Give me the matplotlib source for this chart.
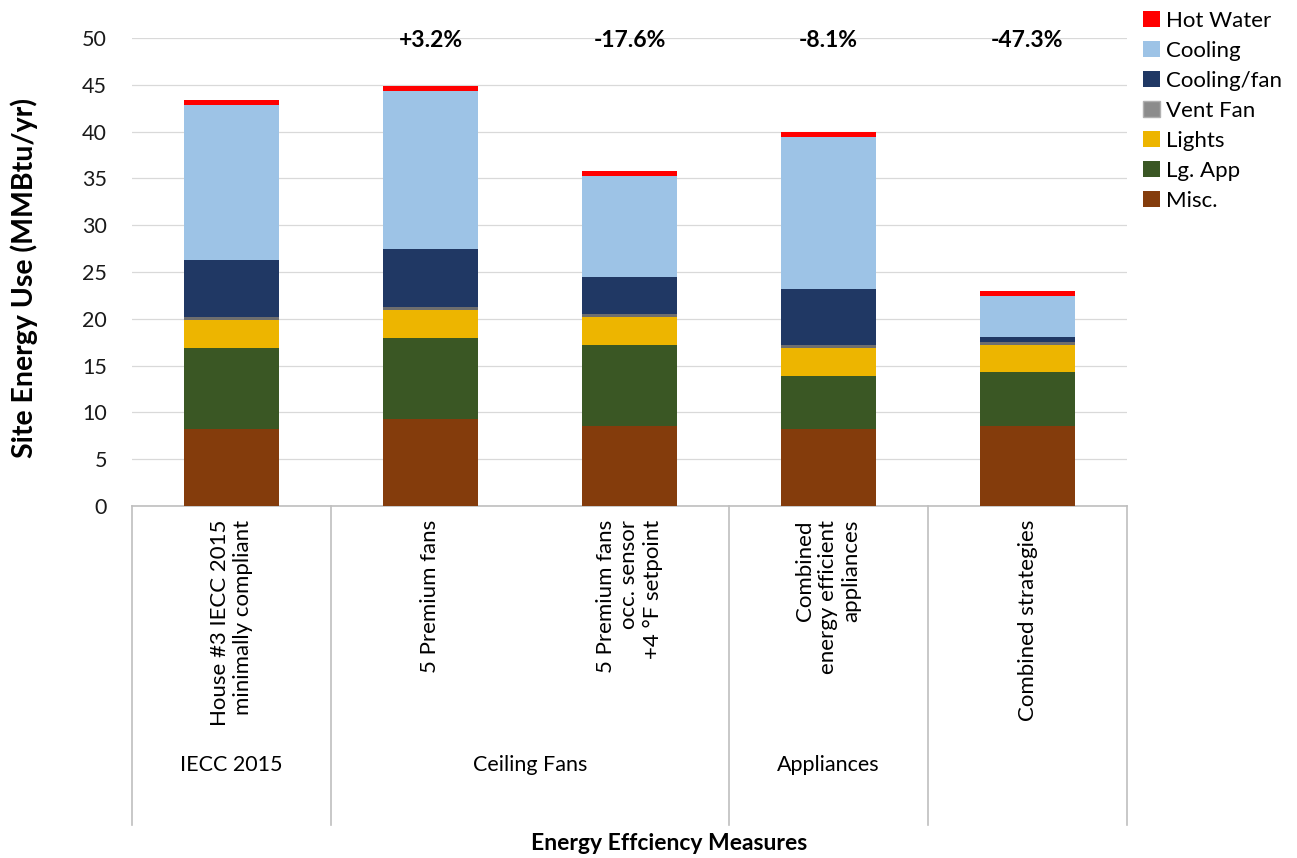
import matplotlib
matplotlib.use("Agg")
import matplotlib.pyplot as plt
import matplotlib.transforms as mtransforms
from matplotlib.patches import Patch
import numpy as np

plt.rcParams['font.family'] = ['Lato', 'DejaVu Sans']

# ---- data ----
categories = [
    "House #3 IECC 2015\nminimally compliant",
    "5 Premium fans",
    "5 Premium fans\nocc. sensor\n+4 °F setpoint",
    "Combined\nenergy efficient\nappliances",
    "Combined strategies",
]
groups = ["IECC 2015", "Ceiling Fans", "Appliances", ""]
group_spans = [(0, 0), (1, 2), (3, 3), (4, 4)]
pct_labels = ["", "+3.2%", "-17.6%", "-8.1%", "-47.3%"]

misc        = [8.2, 9.3, 8.55, 8.2, 8.6]
lg_app      = [8.7, 8.7, 8.6, 5.7, 5.7]
lights      = [2.95, 2.95, 3.0, 2.95, 2.9]
vent_fan    = [0.32, 0.32, 0.32, 0.32, 0.32]
cooling_fan = [6.1, 6.2, 3.95, 6.0, 0.5]
cooling     = [16.6, 16.9, 10.8, 16.25, 4.4]
hot_water   = [0.5, 0.54, 0.6, 0.54, 0.54]

series = [
    ("Misc.", misc, "#843C0C"),
    ("Lg. App", lg_app, "#3A5724"),
    ("Lights", lights, "#EDB500"),
    ("Vent Fan", vent_fan, "#6E6E6E"),
    ("Cooling/fan", cooling_fan, "#203864"),
    ("Cooling", cooling, "#9DC3E6"),
    ("Hot Water", hot_water, "#FF0000"),
]

W, H = 1297, 858
fig = plt.figure(figsize=(W / 100, H / 100), dpi=100)
ax = fig.add_axes([132 / W, 1 - 506 / H, (1127 - 132) / W, (506 - 38) / H])

x = np.arange(len(categories))
bottom = np.zeros(len(categories))
handles = {}
for name, vals, col in series:
    vals = np.array(vals)
    ax.bar(x, vals, width=0.48, bottom=bottom, color=col, edgecolor="none", zorder=3)
    handles[name] = Patch(facecolor=col if name != "Vent Fan" else "#8C8C8C",
                          edgecolor="#B0B0B0" if name == "Vent Fan" else "none")
    bottom = bottom + vals

ax.set_xlim(-0.5, len(categories) - 0.5)
ax.set_ylim(0, 50)
ax.set_yticks(np.arange(0, 51, 5))
ax.yaxis.grid(True, color="#D9D9D9", linewidth=0.9, zorder=0)
ax.set_axisbelow(True)
for s in ["left", "right", "top"]:
    ax.spines[s].set_visible(False)
ax.spines["bottom"].set_color("#BFBFBF")
ax.spines["bottom"].set_linewidth(1.2)
ax.tick_params(axis="y", length=0, pad=18, labelsize=15.5, labelcolor="#1a1a1a")
ax.tick_params(axis="x", length=0, labelbottom=False)

# percentage labels
for i, lab in enumerate(pct_labels):
    if lab:
        ax.text(i, 49.7, lab, ha="center", va="center", fontsize=16.5, fontweight="bold")

# category labels (rotated)
trans = mtransforms.blended_transform_factory(ax.transData, ax.transAxes)
for i, lab in enumerate(categories):
    ax.text(i, -0.03, lab, rotation=90, ha="center", va="top", multialignment="right",
            fontsize=16, transform=trans, linespacing=1.2)

# separators
seps = [-0.5, 0.5, 2.5, 3.5, 4.5]
for s in seps:
    ax.plot([s, s], [0, -0.682], transform=trans, color="#BFBFBF", lw=1.2, clip_on=False)

# group labels
for g, (a, b) in zip(groups, group_spans):
    if g:
        ax.text((a + b) / 2, -0.553, g, ha="center", va="center", fontsize=15.5, transform=trans)

# axis titles
fig.text(24 / W, 1 - 278 / H, "Site Energy Use (MMBtu/yr)", rotation=90, ha="center",
         va="center", fontsize=20.5, fontweight="bold")
fig.text(669 / W, 1 - 843 / H, "Energy Effciency Measures", ha="center", va="center",
         fontsize=16.5, fontweight="bold")

# legend
order = ["Hot Water", "Cooling", "Cooling/fan", "Vent Fan", "Lights", "Lg. App", "Misc."]
fig.legend([handles[n] for n in order], order, loc="upper left",
           bbox_to_anchor=(1134 / W, 1 - 2 / H), frameon=False, fontsize=16,
           handlelength=0.75, handleheight=0.75, handletextpad=0.3, labelspacing=0.45,
           borderaxespad=0)

fig.savefig("out.png", dpi=100, facecolor="white")
